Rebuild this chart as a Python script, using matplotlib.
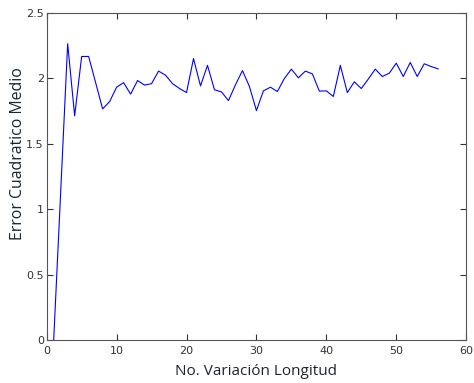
import numpy as np
import matplotlib
matplotlib.use("Agg")
import matplotlib.pyplot as plt

# Data.
variacion = list(range(1, 57))
error = [0.0, 1.13, 2.265, 1.714, 2.168, 2.168, 1.968, 1.767, 1.823, 1.933,
         1.968, 1.88, 1.984, 1.949, 1.96, 2.056, 2.025, 1.96, 1.923, 1.892,
         2.152, 1.943, 2.10, 1.913, 1.897, 1.831, 1.951, 2.06, 1.938, 1.754,
         1.905, 1.933, 1.90, 2.0, 2.071, 2.005, 2.056, 2.035, 1.903, 1.905,
         1.862, 2.10, 1.892, 1.974, 1.923, 1.995, 2.071, 2.015, 2.04, 2.117,
         2.015, 2.122, 2.015, 2.112, 2.091, 2.073]
x_ticks = [0, 10, 20, 30, 40, 50, 60]
y_ticks = [0, 0.5, 1, 1.5, 2, 2.5]

fig = plt.figure(figsize=(4.74, 3.83), dpi=100)
ax = fig.add_axes([0.0985, 0.112, 0.885, 0.854])
ax.plot(variacion, error, color="#0000ff", linewidth=0.8)

ax.set_xlim(0, 60)
ax.set_ylim(0, 2.5)
ax.set_xticks(x_ticks)
ax.set_yticks(y_ticks)
ax.set_yticklabels(["0", "0.5", "1", "1.5", "2", "2.5"])
ax.tick_params(direction="in", length=4, width=0.8, labelsize=8, pad=2,
               top=True, right=True, colors="#333333")
ax.tick_params(axis="x", pad=4)
for s in ax.spines.values():
    s.set_color("#555555")
    s.set_linewidth(0.8)

ax.set_xlabel("No. Variación Longitud", fontsize=11, family="Open Sans",
              color="#1a2433")
ax.set_ylabel("Error Cuadratico Medio", fontsize=11.4, family="Open Sans",
              color="#1a2433")
ax.xaxis.set_label_coords(0.5, -0.072)
ax.yaxis.set_label_coords(-0.05, 0.57)

plt.savefig("out.png", dpi=100)
